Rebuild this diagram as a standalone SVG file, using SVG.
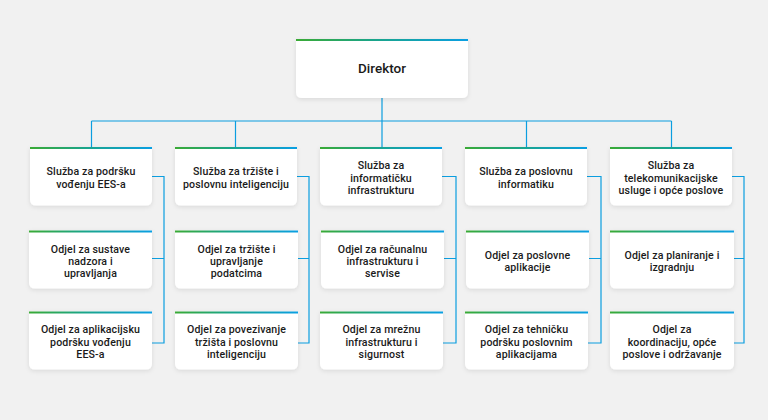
<svg xmlns="http://www.w3.org/2000/svg" width="768" height="420" viewBox="0 0 768 420">
<defs>
<linearGradient id="bar" x1="0" y1="0" x2="1" y2="0">
<stop offset="0" stop-color="#3aaa35"/>
<stop offset="0.45" stop-color="#1aa58a"/>
<stop offset="1" stop-color="#0a9fe3"/>
</linearGradient>
<filter id="sh" x="-10%" y="-10%" width="120%" height="130%">
<feDropShadow dx="0" dy="1.5" stdDeviation="2" flood-color="#000" flood-opacity="0.10"/>
</filter>
<style>
.bg{fill:#f1f1f1}
.box{fill:#ffffff;filter:url(#sh)}
.bar{fill:url(#bar)}
.t{font-family:Roboto,"Liberation Sans",sans-serif;font-size:10.6px;font-weight:500;letter-spacing:0.12px;fill:#1a1a1a;text-anchor:middle}
.td{font-family:Roboto,"Liberation Sans",sans-serif;font-size:13.5px;font-weight:500;fill:#1a1a1a;text-anchor:middle}
.c{fill:none;stroke:#0b9ee0;stroke-width:1.2}
</style>
</defs>
<rect class="bg" x="0" y="0" width="768" height="420"/>
<g id="connectors">
<path class="c" d="M382 98 V147"/>
<path class="c" d="M91.5 121 H671.5"/>
<path class="c" d="M91.5 121 V147 M235.5 121 V147 M526.5 121 V147 M671.5 121 V147"/>
<path class="c" d="M152 176.5 H164 V343 H152 M152 258.5 H164"/>
<path class="c" d="M297 176.5 H309 V343 H297 M297 258.5 H309"/>
<path class="c" d="M442 176.5 H456 V343 H442 M442 258.5 H456"/>
<path class="c" d="M587 176.5 H601 V343 H587 M587 258.5 H601"/>
<path class="c" d="M732 176.5 H744 V343 H732 M732 258.5 H744"/>
</g>
<g id="n-direktor">
<path class="box" d="M296 39 H468 V92 Q468 98 462 98 H302 Q296 98 296 92 Z"/>
<rect class="bar" x="296" y="39" width="172" height="2"/>
<text class="td" x="382" y="72.5">Direktor</text>
</g>
<g id="n-s1">
<path class="box" d="M30 147 H152 V199.5 Q152 205.5 146 205.5 H36 Q30 205.5 30 199.5 Z"/>
<rect class="bar" x="30" y="147" width="122" height="2"/>
<text class="t" x="91" y="175.3">Služba za podršku</text>
<text class="t" x="91" y="187.7">vođenju EES-a</text>
</g>
<g id="n-s2">
<path class="box" d="M175 147 H297 V199.5 Q297 205.5 291 205.5 H181 Q175 205.5 175 199.5 Z"/>
<rect class="bar" x="175" y="147" width="122" height="2"/>
<text class="t" x="236" y="175.3">Služba za tržište i</text>
<text class="t" x="236" y="187.7">poslovnu inteligenciju</text>
</g>
<g id="n-s3">
<path class="box" d="M320 147 H442 V199.5 Q442 205.5 436 205.5 H326 Q320 205.5 320 199.5 Z"/>
<rect class="bar" x="320" y="147" width="122" height="2"/>
<text class="t" x="381" y="169.1">Služba za</text>
<text class="t" x="381" y="181.5">informatičku</text>
<text class="t" x="381" y="193.9">infrastrukturu</text>
</g>
<g id="n-s4">
<path class="box" d="M465 147 H587 V199.5 Q587 205.5 581 205.5 H471 Q465 205.5 465 199.5 Z"/>
<rect class="bar" x="465" y="147" width="122" height="2"/>
<text class="t" x="526" y="175.3">Služba za poslovnu</text>
<text class="t" x="526" y="187.7">informatiku</text>
</g>
<g id="n-s5">
<path class="box" d="M610 147 H732 V199.5 Q732 205.5 726 205.5 H616 Q610 205.5 610 199.5 Z"/>
<rect class="bar" x="610" y="147" width="122" height="2"/>
<text class="t" x="671" y="169.1">Služba za</text>
<text class="t" x="671" y="181.5">telekomunikacijske</text>
<text class="t" x="671" y="193.9">usluge i opće poslove</text>
</g>
<g id="n-o1a">
<path class="box" d="M29 230.5 H152 V282.5 Q152 288.5 146 288.5 H35 Q29 288.5 29 282.5 Z"/>
<rect class="bar" x="29" y="230.5" width="123" height="2"/>
<text class="t" x="90.5" y="252.6">Odjel za sustave</text>
<text class="t" x="90.5" y="265">nadzora i</text>
<text class="t" x="90.5" y="277.4">upravljanja</text>
</g>
<g id="n-o2a">
<path class="box" d="M175 230.5 H298 V282.5 Q298 288.5 292 288.5 H181 Q175 288.5 175 282.5 Z"/>
<rect class="bar" x="175" y="230.5" width="123" height="2"/>
<text class="t" x="236.5" y="252.6">Odjel za tržište i</text>
<text class="t" x="236.5" y="265">upravljanje</text>
<text class="t" x="236.5" y="277.4">podatcima</text>
</g>
<g id="n-o3a">
<path class="box" d="M321 230.5 H444 V282.5 Q444 288.5 438 288.5 H327 Q321 288.5 321 282.5 Z"/>
<rect class="bar" x="321" y="230.5" width="123" height="2"/>
<text class="t" x="382.5" y="252.6">Odjel za računalnu</text>
<text class="t" x="382.5" y="265">infrastrukturu i</text>
<text class="t" x="382.5" y="277.4">servise</text>
</g>
<g id="n-o4a">
<path class="box" d="M466 230.5 H589 V282.5 Q589 288.5 583 288.5 H472 Q466 288.5 466 282.5 Z"/>
<rect class="bar" x="466" y="230.5" width="123" height="2"/>
<text class="t" x="527.5" y="258.8">Odjel za poslovne</text>
<text class="t" x="527.5" y="271.2">aplikacije</text>
</g>
<g id="n-o5a">
<path class="box" d="M610 230.5 H734 V282.5 Q734 288.5 728 288.5 H616 Q610 288.5 610 282.5 Z"/>
<rect class="bar" x="610" y="230.5" width="124" height="2"/>
<text class="t" x="672" y="258.8">Odjel za planiranje i</text>
<text class="t" x="672" y="271.2">izgradnju</text>
</g>
<g id="n-o1b">
<path class="box" d="M29 311.5 H152 V363.5 Q152 369.5 146 369.5 H35 Q29 369.5 29 363.5 Z"/>
<rect class="bar" x="29" y="311.5" width="123" height="2"/>
<text class="t" x="90.5" y="333.1">Odjel za aplikacijsku</text>
<text class="t" x="90.5" y="345.5">podršku vođenju</text>
<text class="t" x="90.5" y="357.9">EES-a</text>
</g>
<g id="n-o2b">
<path class="box" d="M175 311.5 H298 V363.5 Q298 369.5 292 369.5 H181 Q175 369.5 175 363.5 Z"/>
<rect class="bar" x="175" y="311.5" width="123" height="2"/>
<text class="t" x="236.5" y="333.1">Odjel za povezivanje</text>
<text class="t" x="236.5" y="345.5">tržišta i poslovnu</text>
<text class="t" x="236.5" y="357.9">inteligenciju</text>
</g>
<g id="n-o3b">
<path class="box" d="M320 311.5 H443 V363.5 Q443 369.5 437 369.5 H326 Q320 369.5 320 363.5 Z"/>
<rect class="bar" x="320" y="311.5" width="123" height="2"/>
<text class="t" x="381.5" y="333.1">Odjel za mrežnu</text>
<text class="t" x="381.5" y="345.5">infrastrukturu i</text>
<text class="t" x="381.5" y="357.9">sigurnost</text>
</g>
<g id="n-o4b">
<path class="box" d="M465 311.5 H588 V363.5 Q588 369.5 582 369.5 H471 Q465 369.5 465 363.5 Z"/>
<rect class="bar" x="465" y="311.5" width="123" height="2"/>
<text class="t" x="526.5" y="333.1">Odjel za tehničku</text>
<text class="t" x="526.5" y="345.5">podršku poslovnim</text>
<text class="t" x="526.5" y="357.9">aplikacijama</text>
</g>
<g id="n-o5b">
<path class="box" d="M610 311.5 H734 V363.5 Q734 369.5 728 369.5 H616 Q610 369.5 610 363.5 Z"/>
<rect class="bar" x="610" y="311.5" width="124" height="2"/>
<text class="t" x="672" y="333.1">Odjel za</text>
<text class="t" x="672" y="345.5">koordinaciju, opće</text>
<text class="t" x="672" y="357.9">poslove i održavanje</text>
</g>
</svg>
